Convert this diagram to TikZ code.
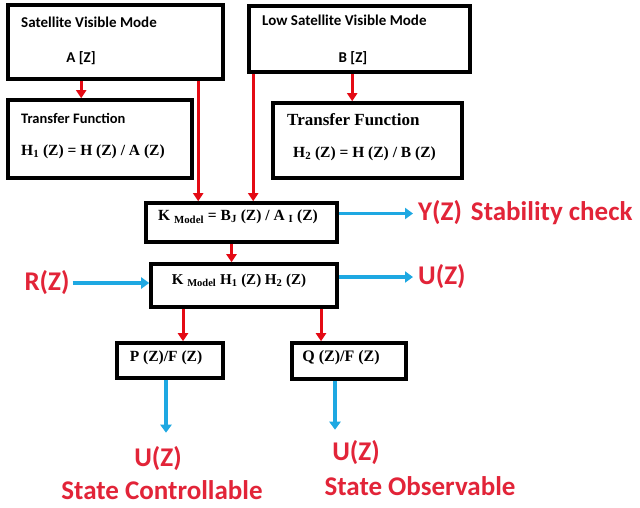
\documentclass[tikz,border=0pt]{standalone}
\usepackage{fontspec}
\setmainfont{Liberation Serif}
\newfontfamily\carl{Carlito}
\usetikzlibrary{arrows.meta}
\definecolor{arrred}{RGB}{228,10,20}
\definecolor{lblred}{RGB}{226,36,56}
\definecolor{arrblue}{RGB}{30,168,226}
\tikzset{
  box/.style={draw=black,line width=3.6pt,inner sep=0pt},
  sanslbl/.style={font=\carl\bfseries\fontsize{15}{17}\selectfont,inner sep=0pt,anchor=west},
  seriflbl/.style={font=\bfseries\fontsize{15.5}{17}\selectfont,inner sep=0pt},
  redlbl/.style={font=\carl\bfseries\fontsize{27}{30}\selectfont,text=lblred,inner sep=0pt},
  rarr/.style={draw=arrred,line width=3pt,-{Triangle[length=8pt,width=10pt]}},
  barr/.style={draw=arrblue,line width=3.4pt,-{Triangle[length=8pt,width=11pt]}}
}
\begin{document}
\begin{tikzpicture}[x=1pt,y=-1pt]
\useasboundingbox[fill=white] (0,0) rectangle (640,507);
% boxes
\node[box,minimum width=215pt,minimum height=74pt] (b1) at (115.5,42) {};
\node[box,minimum width=184pt,minimum height=78pt] (b2) at (100,139) {};
\node[box,minimum width=221pt,minimum height=66pt] (b3) at (359.5,39) {};
\node[box,minimum width=189pt,minimum height=75pt] (b4) at (367.5,140.5) {};
\node[box,minimum width=191pt,minimum height=39pt] (k) at (241.5,222.5) {};
\node[box,minimum width=186pt,minimum height=43pt] (m) at (244,285.5) {};
\node[box,minimum width=106pt,minimum height=35pt] (p) at (170,360.5) {};
\node[box,minimum width=114pt,minimum height=36pt] (q) at (349,361) {};
% texts in boxes
\node[sanslbl] (t1) at (21,22) {Satellite Visible Mode};
\node[sanslbl,anchor=center] (t1b) at (81,58) {A [Z]};
\node[sanslbl] (t3) at (262,20) {Low Satellite Visible Mode};
\node[sanslbl,anchor=center] (t3b) at (353,58) {B [Z]};
\node[sanslbl,font=\carl\bfseries\fontsize{14.5}{16}\selectfont] (t2) at (21,118) {Transfer Function};
\node[seriflbl,anchor=west] (t2b) at (21,152) {H\textsubscript{1} (Z) = H (Z) / A (Z)};
\node[seriflbl,anchor=west,font=\bfseries\fontsize{17}{19}\selectfont] (t4) at (287,120) {Transfer Function};
\node[seriflbl,anchor=west] (t4b) at (293,154) {H\textsubscript{2} (Z) = H (Z) / B (Z)};
\node[seriflbl] (tk) at (238,217) {K \textsubscript{Model} = B\textsubscript{J} (Z) / A \textsubscript{I} (Z)};
\node[seriflbl,font=\bfseries\fontsize{15}{17}\selectfont] (tm) at (239,281) {K \textsubscript{Model} H\textsubscript{1} (Z) H\textsubscript{2} (Z)};
\node[seriflbl] (tp) at (166,358) {P (Z)/F (Z)};
\node[seriflbl,font=\bfseries\fontsize{16}{18}\selectfont] (tq) at (341,358) {Q (Z)/F (Z)};
% red labels
\node[redlbl] (r) at (47,283) {R(Z)};
\node[redlbl,anchor=west] (y) at (418,213) {Y(Z)\hspace{9pt}Stability check};
\node[redlbl,anchor=west] (u) at (418,277) {U(Z)};
\node[redlbl] (u1) at (158,459) {U(Z)};
\node[redlbl] (s1) at (162,490) {State Controllable};
\node[redlbl] (u2) at (356,453) {U(Z)};
\node[redlbl] (s2) at (420,486) {State Observable};
% red connectors
\draw[rarr] ([xshift=75pt]b1.south west) -- ([xshift=75pt]b2.north west);
\draw[rarr] ([xshift=105pt]b3.south west) -- ([xshift=105pt]b3.south west |- b4.north);
\draw[rarr] ([xshift=192pt]b1.south west) coordinate (c1) -- (c1 |- k.north);
\draw[rarr] ([xshift=6pt]b3.south west) coordinate (c2) -- (c2 |- k.north);
\draw[rarr] ([xshift=-10pt]k.south) coordinate (c3) -- (c3 |- m.north);
\draw[rarr] ([xshift=-61pt]m.south) coordinate (c4) -- (c4 |- p.north);
\draw[rarr] ([xshift=77pt]m.south) coordinate (c5) -- (c5 |- q.north);
% blue connectors
\draw[barr] ([xshift=3pt]r.east) -- (r.east -| m.west);
\draw[barr] ([yshift=9pt]k.east) coordinate (c6) -- ([xshift=-5pt]c6 -| y.west);
\draw[barr] ([yshift=8.5pt]m.east) coordinate (c7) -- ([xshift=-5pt]c7 -| u.west);
\draw[barr] ([xshift=-4pt]p.south) coordinate (c8) -- ([yshift=14pt]c8 |- u1.north);
\draw[barr] ([xshift=-14pt]q.south) coordinate (c9) -- ([yshift=11pt]c9 |- u2.north);
\end{tikzpicture}
\end{document}
